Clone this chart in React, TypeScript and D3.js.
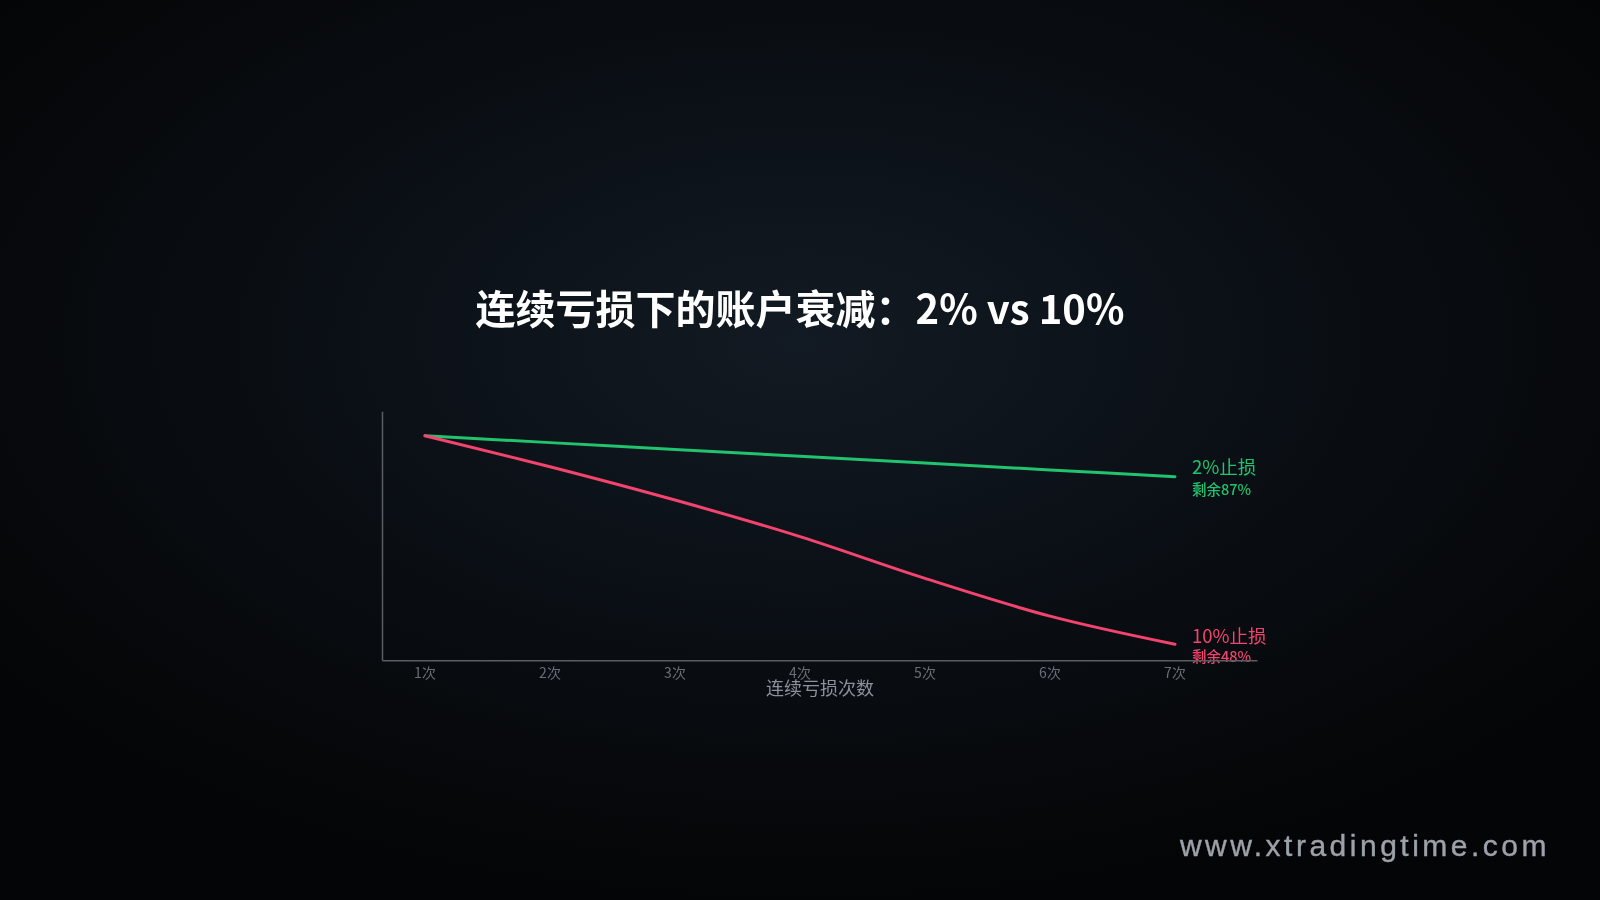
import React from 'react';
import * as d3 from 'd3';

const W = 1600;
const H = 900;

// 连续亏损次数
const steps = [1, 2, 3, 4, 5, 6, 7];
const stepLabels = ['1次', '2次', '3次', '4次', '5次', '6次', '7次'];

// 账户剩余
const risk2 = [100, 98.3, 96.6, 94.9, 93.2, 91.5, 89.8];
const risk10 = [100, 92.3, 84.0, 74.9, 64.5, 55.1, 48.1];

const seriesNames = ['2%止损', '10%止损'];
const remainLabels = ['剩余87%', '剩余48%'];
const seriesColors = ['#22c36e', '#f2446e'];

const FONT = '"Noto Sans CJK SC", "Noto Sans", sans-serif';

const App: React.FC = () => {
  const x = d3.scaleLinear().domain([1, 7]).range([425, 1175]);
  const y = d3.scaleLinear().domain([44, 106]).range([660.7, 411.7]);

  const line = d3
    .line<number>()
    .x((_, i) => x(steps[i]))
    .y(d => y(d))
    .curve(d3.curveMonotoneX);

  const all = [risk2, risk10];
  const x0 = x(0.66);
  const x1 = x(7.66);

  return (
    <div style={{ position: 'fixed', left: 0, top: 0, width: W, height: H }}>
      <svg width={W} height={H} viewBox={`0 0 ${W} ${H}`} style={{ display: 'block' }}>
        <defs>
          <radialGradient id="bg" cx="50%" cy="38%" r="62%">
            <stop offset="0%" stopColor="#121a23" />
            <stop offset="45%" stopColor="#0b1016" />
            <stop offset="100%" stopColor="#040506" />
          </radialGradient>
        </defs>
        <rect width={W} height={H} fill="url(#bg)" />

        {/* 标题 */}
        <text
          x={800}
          y={313}
          textAnchor="middle"
          dominantBaseline="middle"
          fill="#ffffff"
          fontFamily={FONT}
          fontWeight={700}
          fontSize={40}
        >
          连续亏损下的账户衰减：2% vs 10%
        </text>

        {/* 线 */}
        {all.map((vals, k) => (
          <path
            key={k}
            d={line(vals) || ''}
            fill="none"
            stroke={seriesColors[k]}
            strokeWidth={3}
            strokeLinecap="round"
            strokeLinejoin="round"
          />
        ))}

        {/* 末端标签 */}
        {all.map((vals, k) => {
          const ye = y(vals[vals.length - 1]);
          const dy = k === 0 ? [-8, 14] : [-6, 14];
          return (
            <g key={k} fontFamily={FONT} fill={seriesColors[k]}>
              <text x={1192} y={ye + dy[0]} dominantBaseline="middle" fontSize={18.5}>
                {seriesNames[k]}
              </text>
              <text x={1192} y={ye + dy[1]} dominantBaseline="middle" fontSize={14.5} fontWeight={500}>
                {remainLabels[k]}
              </text>
            </g>
          );
        })}

        {/* 坐标轴 */}
        <line x1={x0} x2={x0} y1={y(106)} y2={y(44)} stroke="#5a5e64" strokeWidth={1.5} />
        <line x1={x0} x2={x1} y1={y(44)} y2={y(44)} stroke="#5a5e64" strokeWidth={1.5} />

        {steps.map((s, i) => (
          <text
            key={s}
            x={x(s)}
            y={674}
            textAnchor="middle"
            dominantBaseline="middle"
            fill="#6a6e76"
            fontFamily={FONT}
            fontSize={14}
          >
            {stepLabels[i]}
          </text>
        ))}

        <text
          x={820}
          y={690}
          textAnchor="middle"
          dominantBaseline="middle"
          fill="#8d9199"
          fontFamily={FONT}
          fontSize={18}
        >
          连续亏损次数
        </text>

        {/* 水印 */}
        <text
          x={1550}
          y={856}
          textAnchor="end"
          fill="#9da1a9"
          fontFamily='"Liberation Sans", Arial, sans-serif'
          fontSize={30}
          letterSpacing={3.5}
          stroke="#9da1a9"
          strokeWidth={0.4}
        >
          www.xtradingtime.com
        </text>
      </svg>
    </div>
  );
};

export default App;
